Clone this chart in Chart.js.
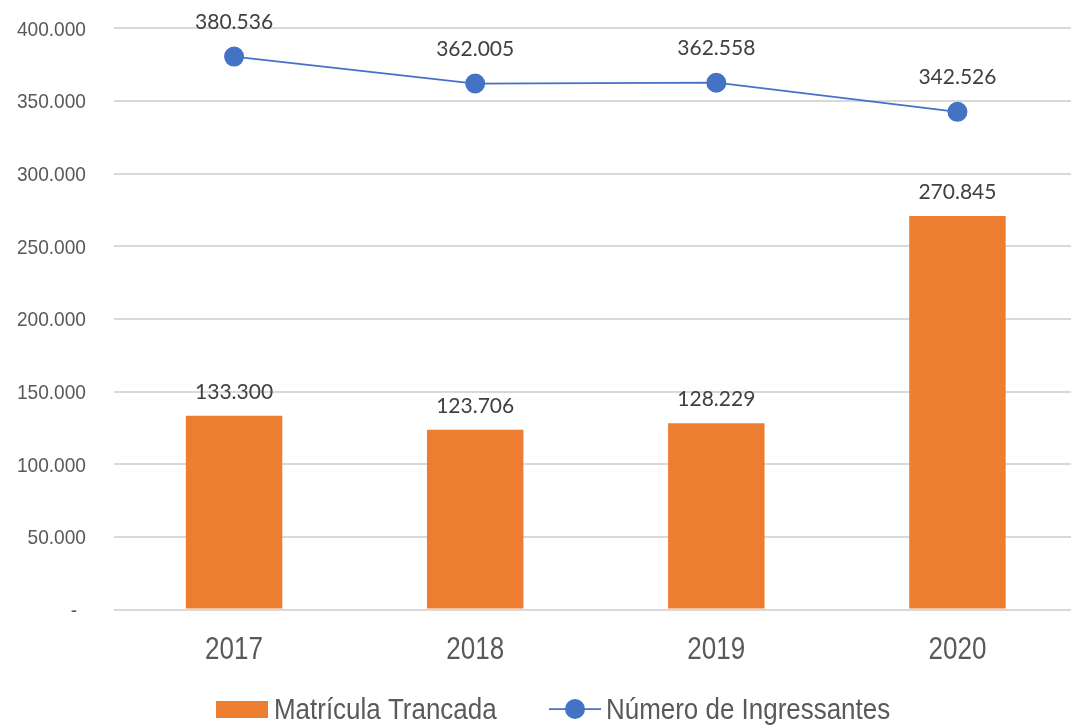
<!DOCTYPE html>
<html>
<head>
<meta charset="utf-8">
<script src="https://cdn.jsdelivr.net/npm/chart.js@4/dist/chart.umd.min.js"></script>
<style>
  html, body { margin: 0; padding: 0; background: #fff; overflow: hidden; }
  canvas { display: block; }
</style>
</head>
<body>
<canvas id="chart" width="1088" height="725"></canvas>
<script>
// Data
const years = ["2017", "2018", "2019", "2020"];
const trancadas = [133300, 123706, 128229, 270845];
const ingressantes = [380536, 362005, 362558, 342526];
const yTicks = [0, 50000, 100000, 150000, 200000, 250000, 300000, 350000, 400000];

const ORANGE = "#ED7D31";
const BLUE = "#4472C4";
const GREY = "#595959";
const SANS = "'Liberation Sans', Arial, sans-serif";
const LABEL_FONT = "21px Lato, 'Open Sans', sans-serif";

// 133300 -> "133.300"
function fmt(v) {
  return String(Math.round(v)).replace(/\B(?=(\d{3})+(?!\d))/g, ".");
}

// draw text squeezed horizontally (the original uses a narrow font)
function narrowText(ctx, text, x, y, align, sx) {
  ctx.save();
  ctx.translate(x, y);
  ctx.scale(sx, 1);
  ctx.textAlign = align;
  ctx.textBaseline = "alphabetic";
  ctx.fillText(text, 0, 0);
  ctx.restore();
}

// Axis labels
const axisLabels = {
  id: "axisLabels",
  afterDraw(chart) {
    const ctx = chart.ctx;
    const xs = chart.scales.x;
    const ys = chart.scales.y;
    ctx.save();
    ctx.fillStyle = GREY;

    ctx.font = "21px " + SANS;
    ys.ticks.forEach((t, i) => {
      const py = ys.getPixelForTick(i);
      if (t.value === 0) narrowText(ctx, "-", 77, py + 7.5, "right", 0.91);
      else narrowText(ctx, fmt(t.value), 86, py + 7.5, "right", 0.91);
    });

    ctx.font = "31px " + SANS;
    xs.ticks.forEach((t, i) => {
      narrowText(ctx, chart.data.labels[i], xs.getPixelForTick(i), 659, "center", 0.84);
    });
    ctx.restore();
  }
};

// Value labels above bars and points
const valueLabels = {
  id: "valueLabels",
  afterDatasetsDraw(chart) {
    const ctx = chart.ctx;
    ctx.save();
    ctx.font = LABEL_FONT;
    ctx.fillStyle = "#404040";
    ctx.textAlign = "center";
    ctx.textBaseline = "alphabetic";
    chart.data.datasets.forEach((ds, i) => {
      const meta = chart.getDatasetMeta(i);
      meta.data.forEach((el, j) => {
        const off = ds.type === "line" ? 28 : 17;
        ctx.fillText(fmt(ds.data[j]), el.x, el.y - off);
      });
    });
    ctx.restore();
  }
};

// Legend drawn below the axis
const bottomLegend = {
  id: "bottomLegend",
  afterDraw(chart) {
    const ctx = chart.ctx;
    const y = 709;
    ctx.save();
    ctx.font = "30px " + SANS;

    ctx.fillStyle = ORANGE;
    ctx.fillRect(216, 701, 52, 17);
    ctx.fillStyle = GREY;
    narrowText(ctx, chart.data.datasets[0].label, 274, 719, "left", 0.865);

    ctx.strokeStyle = BLUE;
    ctx.lineWidth = 1.75;
    ctx.beginPath();
    ctx.moveTo(549, y);
    ctx.lineTo(601, y);
    ctx.stroke();
    ctx.fillStyle = BLUE;
    ctx.beginPath();
    ctx.arc(575, y, 10, 0, Math.PI * 2);
    ctx.fill();
    ctx.fillStyle = GREY;
    narrowText(ctx, chart.data.datasets[1].label, 606, 719, "left", 0.865);
    ctx.restore();
  }
};

const ctx = document.getElementById("chart").getContext("2d");

const chart = new Chart(ctx, {
  data: {
    labels: years,
    datasets: [
      {
        type: "bar",
        label: "Matrícula Trancada",
        data: trancadas,
        backgroundColor: ORANGE,
        categoryPercentage: 1,
        barPercentage: 0.4,
        order: 2
      },
      {
        type: "line",
        label: "Número de Ingressantes",
        data: ingressantes,
        borderColor: BLUE,
        backgroundColor: BLUE,
        borderWidth: 1.75,
        pointRadius: 10,
        pointHoverRadius: 10,
        pointBorderWidth: 0,
        tension: 0,
        order: 1
      }
    ]
  },
  options: {
    responsive: false,
    animation: false,
    devicePixelRatio: 1,
    layout: {
      padding: { top: 28.3, left: 0, right: 0, bottom: 0 }
    },
    plugins: {
      legend: { display: false },
      tooltip: { enabled: false }
    },
    scales: {
      x: {
        grid: { display: false, drawTicks: false },
        border: { display: false },
        ticks: { display: false },
        afterFit(s) { s.height = 115.5; }
      },
      y: {
        min: 0,
        max: 400000,
        afterBuildTicks(s) { s.ticks = yTicks.map(v => ({ value: v })); },
        grid: { color: "#d9d9d9", lineWidth: 2, drawTicks: false },
        border: { display: false },
        ticks: { display: false },
        afterFit(s) { s.width = 113.5; }
      }
    }
  },
  plugins: [valueLabels, axisLabels, bottomLegend]
});
</script>
</body>
</html>
